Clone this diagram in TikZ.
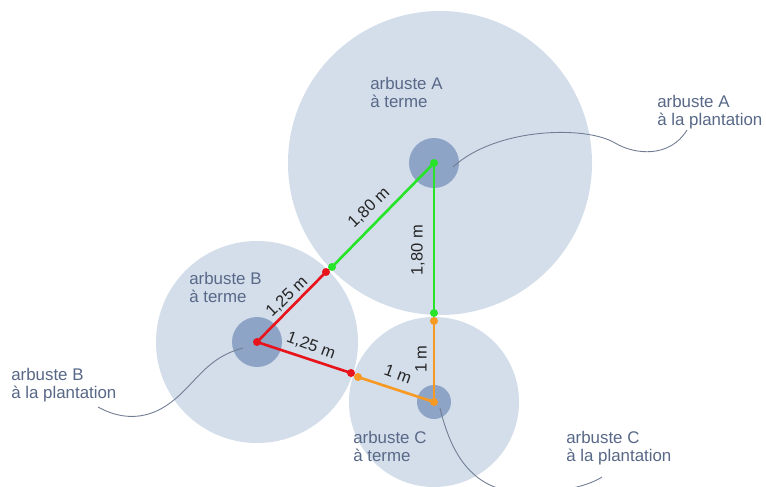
\documentclass[tikz,border=0pt]{standalone}
\usepackage{fontspec}
\setmainfont{Liberation Sans}
\definecolor{CrownBlue}{RGB}{212, 222, 235}
\definecolor{TrunkBlue}{RGB}{142, 164, 198}
\definecolor{LabelBlue}{RGB}{88, 104, 135}
\definecolor{LeaderGray}{RGB}{112, 124, 146}
\definecolor{SpacingGreen}{RGB}{40, 228, 40}
\definecolor{SpacingRed}{RGB}{232, 20, 28}
\definecolor{SpacingOrange}{RGB}{246, 154, 35}

\begin{document}
\begin{tikzpicture}[x=0.02cm, y=-0.02cm,
        shrub/.style={font=\fontsize{9.6}{10.3}\selectfont, text=LabelBlue, align=left, anchor=north west, inner sep=0pt},
        dist/.style={font=\fontsize{9.4}{10}\selectfont, text=black!85, inner sep=0pt},
        leader/.style={LeaderGray, line width=0.5pt},
        gap/.style={line width=1.5pt}]
        \clip (0,0) rectangle (766,486);
        \fill[white] (0,0) rectangle (766,486);
        % crowns at maturity
        \fill[CrownBlue] (440,163) circle (152);
        \fill[CrownBlue] (257,342) circle (101);
        \fill[CrownBlue] (434,402) circle (85);
        % trunks at planting
        \coordinate (A_Centre) at (434,163);
        \coordinate (B_Centre) at (257,342);
        \coordinate (C_Centre) at (434,402);
        \fill[TrunkBlue] (A_Centre) circle (25);
        \fill[TrunkBlue] (B_Centre) circle (25);
        \fill[TrunkBlue] (C_Centre) circle (17);
        % points where crowns touch
        \coordinate (AB_Green)  at (332,267);
        \coordinate (AB_Red)    at (326,272);
        \coordinate (BC_Red)    at (351,373);
        \coordinate (BC_Orange) at (358,377);
        \coordinate (AC_Green)  at (434,313);
        \coordinate (AC_Orange) at (434,321);
        % leaders
        \coordinate (A_Leader) at (453,167);
        \coordinate (B_Leader) at (243,348);
        \coordinate (C_Leader) at (440,408);
        \draw[leader] (A_Leader) .. controls (495,128) and (585,125) .. (615,143) .. controls (635,155) and (670,158) .. (687,130);
        \draw[leader] (B_Leader) .. controls (205,358) and (195,385) .. (170,403) .. controls (150,418) and (125,422) .. (98,407);
        \draw[leader] (C_Leader) .. controls (450,450) and (470,490) .. (520,492) .. controls (560,494) and (590,485) .. (602,477);
        % spacings
        \draw[gap, SpacingGreen] (A_Centre) -- (AB_Green);
        \draw[gap, SpacingGreen] (A_Centre) -- (AC_Green);
        \draw[gap, SpacingRed] (B_Centre) -- (AB_Red);
        \draw[gap, SpacingRed] (B_Centre) -- (BC_Red);
        \draw[gap, SpacingOrange] (C_Centre) -- (BC_Orange);
        \draw[gap, SpacingOrange] (C_Centre) -- (AC_Orange);
        \foreach \p in {A_Centre, AB_Green, AC_Green} { \fill[SpacingGreen] (\p) circle (4); }
        \foreach \p in {B_Centre, AB_Red, BC_Red} { \fill[SpacingRed] (\p) circle (4); }
        \foreach \p in {C_Centre, BC_Orange, AC_Orange} { \fill[SpacingOrange] (\p) circle (4); }
        \node[dist, rotate=44] (AB_Dist) at (369,208) {1,80 m};
        \node[dist, rotate=90] (AC_Dist) at (418,250) {1,80 m};
        \node[dist, rotate=44] (BA_Dist) at (287,297) {1,25 m};
        \node[dist, rotate=-20] (BC_Dist) at (311,346) {1,25 m};
        \node[dist, rotate=-20] (CB_Dist) at (398,374) {1 m};
        \node[dist, rotate=90] (CA_Dist) at (421,359) {1 m};
        % names
        \node[shrub] (A_Terme) at (370,77) {arbuste A\\à terme};
        \node[shrub] (A_Plant) at (657,95) {arbuste A\\à la plantation};
        \node[shrub] (B_Terme) at (189,272) {arbuste B\\à terme};
        \node[shrub] (B_Plant) at (11,368) {arbuste B\\à la plantation};
        \node[shrub] (C_Terme) at (353,431) {arbuste C\\à terme};
        \node[shrub] (C_Plant) at (566,431) {arbuste C\\à la plantation};
    \end{tikzpicture}
\end{document}
